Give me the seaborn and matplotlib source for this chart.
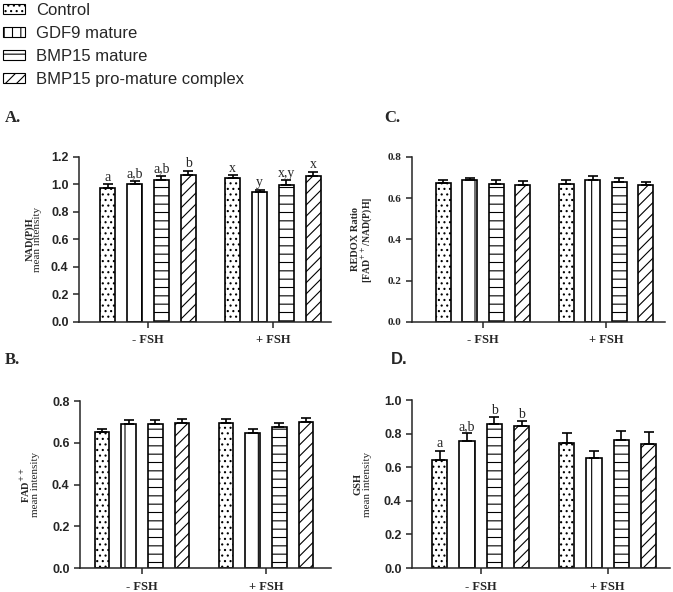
import pandas as pd
import seaborn as sns
import matplotlib.pyplot as plt
from matplotlib.patches import Patch

# groups and treatments
groups = ["- FSH", "+ FSH"]
treatments = ["Control", "GDF9 mature", "BMP15 mature", "BMP15 pro-mature complex"]
hatches = ["...", "|", "--", "///"]
legend_hatches = ["...", "||", "--", "///"]

# values, [group][treatment]
nadph_mean = [[0.974, 1.005, 1.030, 1.066], [1.047, 0.942, 0.998, 1.064]]
nadph_err = [[0.029, 0.022, 0.034, 0.034], [0.019, 0.020, 0.032, 0.029]]
nadph_letters = [["a", "a,b", "a,b", "b"], ["x", "y", "x,y", "x"]]

redox_mean = [[0.675, 0.688, 0.669, 0.662], [0.667, 0.690, 0.680, 0.666]]
redox_err = [[0.012, 0.012, 0.019, 0.020], [0.020, 0.018, 0.016, 0.011]]

fad_mean = [[0.651, 0.690, 0.691, 0.694], [0.693, 0.648, 0.675, 0.700]]
fad_err = [[0.015, 0.019, 0.019, 0.021], [0.021, 0.016, 0.021, 0.018]]

gsh_mean = [[0.642, 0.759, 0.855, 0.843], [0.742, 0.656, 0.763, 0.740]]
gsh_err = [[0.056, 0.042, 0.042, 0.030], [0.059, 0.040, 0.050, 0.069]]
gsh_letters = [["a", "a,b", "b", "b"], ["", "", "", ""]]

sns.set_style("ticks")
plt.rcParams["font.family"] = ["Liberation Sans", "DejaVu Sans"]
plt.rcParams["hatch.linewidth"] = 0.8
serif = "Liberation Serif"

fig = plt.figure(figsize=(6.73, 5.92), dpi=100)


def make_df(mean):
    rows = []
    for g, vals in zip(groups, mean):
        for t, v in zip(treatments, vals):
            rows.append({"group": g, "treatment": t, "value": v})
    return pd.DataFrame(rows)


def panel(rect, mean, err, ylim, yticks, ylabs, xlim, letters=None, serif_ticks=False,
          sub_bold=False):
    ax = fig.add_axes(rect)
    df = make_df(mean)
    sns.barplot(data=df, x="group", y="value", hue="treatment", order=groups,
                hue_order=treatments, palette=["white"] * 4, edgecolor="black",
                linewidth=1.2, width=0.86, gap=0.44, errorbar=None, legend=False, ax=ax)
    bars = list(ax.containers)
    for i, cont in enumerate(bars):
        for j, bar in enumerate(cont):
            bar.set_hatch(hatches[i])
            x = bar.get_x() + bar.get_width() / 2
            y = bar.get_height()
            e = err[j][i]
            ax.errorbar([x], [y], yerr=[[0], [e]], fmt="none", ecolor="black",
                        elinewidth=1.2, capsize=3.5, capthick=1.2, zorder=1)
            if letters and letters[j][i]:
                ax.annotate(letters[j][i], (x, y + e), xytext=(0, 0.3),
                            textcoords="offset points", ha="center", va="bottom",
                            family=serif, fontsize=10)
    ax.set_ylim(*ylim)
    ax.set_xlim(*xlim)
    ax.set_yticks(yticks)
    ax.set_yticklabels([f"{t:.1f}" for t in yticks])
    ax.set_xlabel("")
    ax.set_ylabel("")
    sns.despine(ax=ax)
    for s in ["left", "bottom"]:
        ax.spines[s].set_linewidth(1.1)
    ax.tick_params(width=1.1, length=4, labelsize=9)
    ax.tick_params(axis="x", pad=5)
    for lab in ax.get_xticklabels():
        lab.set_family(serif)
        lab.set_weight("bold")
        lab.set_fontsize(9)
    for lab in ax.get_yticklabels():
        lab.set_weight("bold")
        if serif_ticks:
            lab.set_family(serif)
            lab.set_fontsize(8)
    (t1, x1), (t2, x2) = ylabs
    ax.text(x1, 0.5, t1, transform=ax.transAxes, rotation=90, ha="center",
            va="center", family=serif, weight="bold", fontsize=7.5)
    ax.text(x2, 0.5, t2, transform=ax.transAxes, rotation=90, ha="center",
            va="center", family=serif, fontsize=7 if sub_bold else 8,
            weight="bold" if sub_bold else "normal")
    return ax


panel([0.1174, 0.4561, 0.3744, 0.2787], nadph_mean, nadph_err, (0, 1.2),
      [0.0, 0.2, 0.4, 0.6, 0.8, 1.0, 1.2],
      [("NAD(P)H", -0.196), ("mean intensity", -0.165)],
      (-0.552, 1.464), letters=nadph_letters)
panel([0.6122, 0.4561, 0.3759, 0.2787], redox_mean, redox_err, (0, 0.8),
      [0.0, 0.2, 0.4, 0.6, 0.8],
      [("REDOX Ratio", -0.222), ("[FAD$^{++}$/NAD(P)H]", -0.18)],
      (-0.577, 1.48), serif_ticks=True, sub_bold=True)
panel([0.1189, 0.0405, 0.3729, 0.2821], fad_mean, fad_err, (0, 0.8),
      [0.0, 0.2, 0.4, 0.6, 0.8],
      [("FAD$^{++}$", -0.219), ("mean intensity", -0.179)], (-0.5, 1.524))
panel([0.6122, 0.0405, 0.3833, 0.2838], gsh_mean, gsh_err, (0, 1.0),
      [0.0, 0.2, 0.4, 0.6, 0.8, 1.0],
      [("GSH", -0.209), ("mean intensity", -0.171)], (-0.54, 1.49),
      letters=gsh_letters)

# panel letters
fig.text(0.007, 1 - 118 / 592, "A.", family=serif, weight="bold", fontsize=12, va="center")
fig.text(0.571, 1 - 118 / 592, "C.", family=serif, weight="bold", fontsize=12, va="center")
fig.text(0.007, 1 - 360 / 592, "B.", family=serif, weight="bold", fontsize=12, va="center")
fig.text(0.581, 1 - 360 / 592, "D.", weight="bold", fontsize=12, va="center")

handles = [Patch(facecolor="white", edgecolor="black", hatch=h, linewidth=0.8)
           for h in legend_hatches]
fig.legend(handles, treatments, loc="upper left", bbox_to_anchor=(0.0, 1.0),
           frameon=False, fontsize=12, handlelength=1.32, handleheight=0.55,
           handletextpad=0.72, labelspacing=0.48, borderpad=0.1, borderaxespad=0.05)

fig.savefig("out.png", dpi=100)
